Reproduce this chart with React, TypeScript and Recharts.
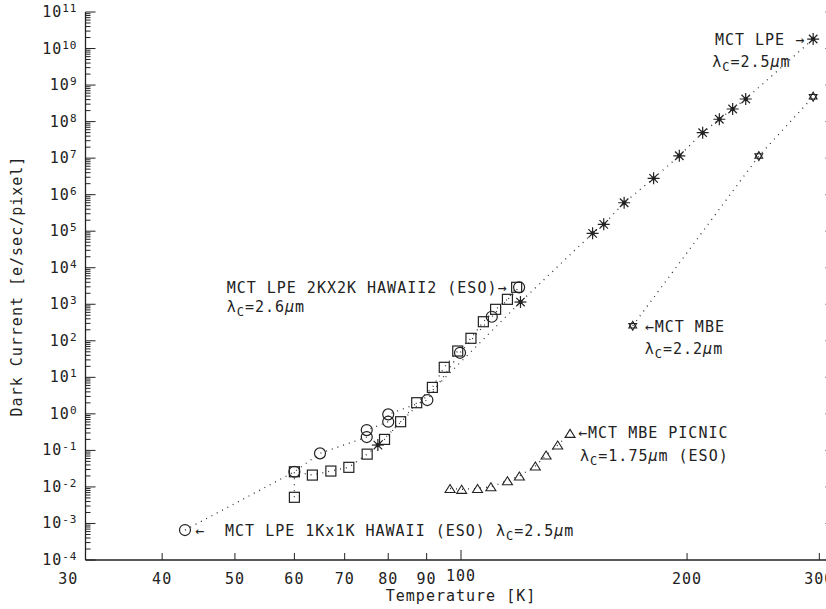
import { Label, Line, LineChart, ReferenceDot, XAxis, YAxis } from "recharts";

// MCT LPE (asterisks)
const lpeT = [77.5, 120, 149.7, 154.9, 164.9, 180.5, 195.3, 209.8, 220.8, 230, 239.4, 294.4];
const lpeI = [0.14, 1150, 8.75e4, 1.54e5, 6.0e5, 2.8e6, 1.16e7, 4.97e7, 1.16e8, 2.21e8, 4.15e8, 1.82e10];

// MCT MBE (hexagrams)
const mbeT = [169.3, 249.2, 294.4];
const mbeI = [258, 1.14e7, 4.8e8];

// MCT MBE PICNIC (triangles)
const picnicT = [96.7, 100.2, 105.2, 109.6, 115.3, 119.6, 125.6, 129.8, 134.5, 139.7];
const picnicI = [0.0091, 0.0086, 0.0091, 0.0101, 0.0148, 0.0199, 0.0373, 0.0746, 0.14, 0.293];

// MCT LPE 1Kx1K HAWAII (circles)
const hawaiiT = [42.9, 60, 64.9, 74.9, 74.9, 80, 80, 90.2, 99.7, 109.9, 119.5];
const hawaiiI = [6.6e-4, 0.026, 0.083, 0.232, 0.36, 0.61, 0.97, 2.39, 47, 456, 2910];

// MCT LPE 2Kx2K HAWAII2 (squares)
const hawaii2T = [60, 60, 63.4, 67.1, 70.9, 75, 79.1, 83.1, 87.3, 91.6, 95, 99, 103.1, 107.1, 111.2, 115.3, 118.6];
const hawaii2I = [0.0052, 0.026, 0.0211, 0.0272, 0.0344, 0.079, 0.2, 0.61, 2.02, 5.3, 18.8, 52.5, 117, 333, 727, 1365, 2910];

const xTicks = [30, 40, 50, 60, 70, 80, 90, 100, 200, 300];
const topTicks = [40, 50, 60, 70, 80, 90, 100, 200, 300];
const yExponents = [-4, -3, -2, -1, 0, 1, 2, 3, 4, 5, 6, 7, 8, 9, 10, 11];
const yMultipliers = [1, 2, 3, 4, 5, 6, 7, 8, 9];

const xDomain = [Math.pow(10, 1.5), Math.pow(10, 2.5)];
const yDomain = [1e-4, 1e11];

const yTicks = yExponents.flatMap((e) =>
  e === 11 ? [Math.pow(10, e)] : yMultipliers.map((m) => m * Math.pow(10, e))
);

const zip = (t: number[], v: number[]) => t.map((x, i) => ({ x, y: v[i] }));

const INK = "#222";
const FONT = "'DejaVu Sans Mono', 'Liberation Mono', monospace";
const txt = { fontFamily: FONT, fontSize: 15, letterSpacing: 1, fill: INK } as const;
const dotted = { stroke: "#333", strokeWidth: 1.3, strokeDasharray: "1 5" };

const isMajor = (v: number) => Math.abs(Math.log10(v) - Math.round(Math.log10(v))) < 1e-6;

const Square = (p: any) => (
  <rect key={p.index} x={p.cx - 5} y={p.cy - 5} width={10} height={10} fill="none" stroke={INK} strokeWidth={1.2} />
);
const Ring = (p: any) => (
  <circle key={p.index} cx={p.cx} cy={p.cy} r={5.5} fill="none" stroke={INK} strokeWidth={1.2} />
);
const Tri = (p: any) => (
  <polygon
    key={p.index}
    points={`${p.cx - 5},${p.cy + 4} ${p.cx + 5},${p.cy + 4} ${p.cx},${p.cy - 4}`}
    fill="none"
    stroke={INK}
    strokeWidth={1.1}
  />
);
const Asterisk = (p: any) => {
  const r = 6;
  const d = r * 0.707;
  const { cx, cy } = p;
  return (
    <g key={p.index} stroke={INK} strokeWidth={1.2}>
      <line x1={cx - r} y1={cy} x2={cx + r} y2={cy} />
      <line x1={cx} y1={cy - r} x2={cx} y2={cy + r} />
      <line x1={cx - d} y1={cy - d} x2={cx + d} y2={cy + d} />
      <line x1={cx - d} y1={cy + d} x2={cx + d} y2={cy - d} />
      <circle cx={cx} cy={cy} r={1.6} fill={INK} />
    </g>
  );
};
const Hexagram = (p: any) => {
  const r = 4.5;
  const { cx, cy } = p;
  const pt = (a: number) => `${cx + r * Math.cos((a * Math.PI) / 180)},${cy + r * Math.sin((a * Math.PI) / 180)}`;
  return (
    <g key={p.index} fill="none" stroke={INK} strokeWidth={1.1}>
      <polygon points={[-90, 30, 150].map(pt).join(" ")} />
      <polygon points={[90, 210, 330].map(pt).join(" ")} />
    </g>
  );
};

const LeftTick = ({ x, y, payload }: any) => {
  const v = payload.value;
  const major = isMajor(v);
  return (
    <g>
      <line x1={x} y1={y} x2={x + (major ? 10 : 5)} y2={y} stroke={INK} strokeWidth={1} />
      {major && (
        <text x={x - 8} y={y + 5} textAnchor="end" {...txt}>
          <tspan>10</tspan>
          <tspan dy={-5} fontSize={11}>
            {Math.round(Math.log10(v))}
          </tspan>
        </text>
      )}
    </g>
  );
};
const RightTick = ({ x, y, payload }: any) => (
  <line x1={x} y1={y} x2={x - (isMajor(payload.value) ? 11 : 5)} y2={y} stroke={INK} strokeWidth={1} />
);
const BottomTick = ({ x, y, payload }: any) => {
  const v = payload.value;
  return (
    <g>
      {v >= xDomain[0] && <line x1={x} y1={y} x2={x} y2={y - (v === 100 ? 10 : 7)} stroke={INK} strokeWidth={1} />}
      <text x={x} y={y + (v === 100 ? 21 : 24)} textAnchor="middle" {...txt}>
        {v}
      </text>
    </g>
  );
};
const TopTick = ({ x, y, payload }: any) => (
  <line x1={x} y1={y} x2={x} y2={y + (payload.value === 100 ? 10 : 6)} stroke={INK} strokeWidth={1} />
);

const Lam = ({ val }: { val: string }) => (
  <>
    <tspan>λ</tspan>
    <tspan dy={4} fontSize={12}>C</tspan>
    <tspan dy={-4}>={val}</tspan>
    <tspan fontStyle="italic">μ</tspan>
    <tspan>m</tspan>
  </>
);

const last = (a: number[]) => a[a.length - 1];

export default function App() {
  return (
    <div style={{ position: "absolute", left: 0, top: 0, width: 826, height: 609, overflow: "hidden", background: "#fff" }}>
      <LineChart width={880} height={609} margin={{ top: 12, right: 0, bottom: 0, left: 0 }}>
        <XAxis
          xAxisId="bottom"
          type="number"
          dataKey="x"
          scale="log"
          domain={xDomain}
          allowDataOverflow
          ticks={xTicks}
          interval={0}
          tickLine={false}
          tickSize={0}
          tickMargin={0}
          tick={BottomTick}
          axisLine={{ stroke: INK, strokeWidth: 1.3 }}
          height={49}
        >
          <Label
            content={({ viewBox }: any) => (
              <text x={viewBox.x + viewBox.width / 2} y={viewBox.y + 41} textAnchor="middle" {...txt}>
                Temperature [K]
              </text>
            )}
          />
        </XAxis>
        <XAxis
          xAxisId="top"
          orientation="top"
          type="number"
          dataKey="x"
          scale="log"
          domain={xDomain}
          allowDataOverflow
          ticks={topTicks}
          interval={0}
          tickLine={false}
          tickSize={0}
          tickMargin={0}
          tick={TopTick}
          axisLine={{ stroke: INK, strokeWidth: 1.3 }}
          height={0}
        />
        <YAxis
          yAxisId="left"
          type="number"
          dataKey="y"
          scale="log"
          domain={yDomain}
          allowDataOverflow
          ticks={yTicks}
          interval={0}
          tickLine={false}
          tickSize={0}
          tickMargin={0}
          tick={LeftTick}
          axisLine={{ stroke: INK, strokeWidth: 1.3 }}
          width={85.5}
        >
          <Label
            content={({ viewBox }: any) => {
              const cy = viewBox.y + viewBox.height / 2;
              return (
                <text x={22} y={cy} transform={`rotate(-90, 22, ${cy})`} textAnchor="middle" {...txt}>
                  Dark Current [e/sec/pixel]
                </text>
              );
            }}
          />
        </YAxis>
        <YAxis
          yAxisId="right"
          orientation="right"
          type="number"
          dataKey="y"
          scale="log"
          domain={yDomain}
          allowDataOverflow
          ticks={yTicks}
          interval={0}
          tickLine={false}
          tickSize={0}
          tickMargin={0}
          tick={RightTick}
          axisLine={{ stroke: INK, strokeWidth: 1.3 }}
          width={43.5}
        />

        <Line xAxisId="bottom" yAxisId="left" data={zip(hawaiiT, hawaiiI)} dataKey="y" {...dotted} dot={Ring} activeDot={false} isAnimationActive={false} />
        <Line xAxisId="bottom" yAxisId="left" data={zip(hawaii2T, hawaii2I)} dataKey="y" {...dotted} dot={Square} activeDot={false} isAnimationActive={false} />
        <Line xAxisId="bottom" yAxisId="left" data={zip(lpeT, lpeI)} dataKey="y" {...dotted} dot={Asterisk} activeDot={false} isAnimationActive={false} />
        <Line xAxisId="bottom" yAxisId="left" data={zip(mbeT, mbeI)} dataKey="y" {...dotted} dot={Hexagram} activeDot={false} isAnimationActive={false} />
        <Line xAxisId="bottom" yAxisId="left" data={zip(picnicT, picnicI)} dataKey="y" {...dotted} dot={Tri} activeDot={false} isAnimationActive={false} />

        <ReferenceDot
          xAxisId="bottom"
          yAxisId="left"
          x={last(lpeT)}
          y={last(lpeI)}
          r={0}
          shape={({ cx, cy }: any) => (
            <g>
              <text x={cx - 8} y={cy + 6} textAnchor="end" {...txt}>MCT LPE →</text>
              <text x={cx - 101} y={cy + 28} {...txt}><Lam val="2.5" /></text>
            </g>
          )}
        />
        <ReferenceDot
          xAxisId="bottom"
          yAxisId="left"
          x={mbeT[0]}
          y={mbeI[0]}
          r={0}
          shape={({ cx, cy }: any) => (
            <g>
              <text x={cx + 12} y={cy + 6} {...txt}>←MCT MBE</text>
              <text x={cx + 12} y={cy + 28} {...txt}><Lam val="2.2" /></text>
            </g>
          )}
        />
        <ReferenceDot
          xAxisId="bottom"
          yAxisId="left"
          x={last(picnicT)}
          y={last(picnicI)}
          r={0}
          shape={({ cx, cy }: any) => (
            <g>
              <text x={cx + 8} y={cy + 5} {...txt}>←MCT MBE PICNIC</text>
              <text x={cx + 10} y={cy + 28} {...txt}><Lam val="1.75" /><tspan> (ESO)</tspan></text>
            </g>
          )}
        />
        <ReferenceDot
          xAxisId="bottom"
          yAxisId="left"
          x={last(hawaii2T)}
          y={last(hawaii2I)}
          r={0}
          shape={({ cx, cy }: any) => (
            <g>
              <text x={cx - 290} y={cy + 6} {...txt}>MCT LPE 2KX2K HAWAII2 (ESO)→</text>
              <text x={cx - 290} y={cy + 25} {...txt}><Lam val="2.6" /></text>
            </g>
          )}
        />
        <ReferenceDot
          xAxisId="bottom"
          yAxisId="left"
          x={hawaiiT[0]}
          y={hawaiiI[0]}
          r={0}
          shape={({ cx, cy }: any) => (
            <text x={cx + 10} y={cy + 6} {...txt} style={{ whiteSpace: "pre" }}>
              <tspan>←  MCT LPE 1Kx1K HAWAII (ESO) </tspan>
              <Lam val="2.5" />
            </text>
          )}
        />
      </LineChart>
    </div>
  );
}
